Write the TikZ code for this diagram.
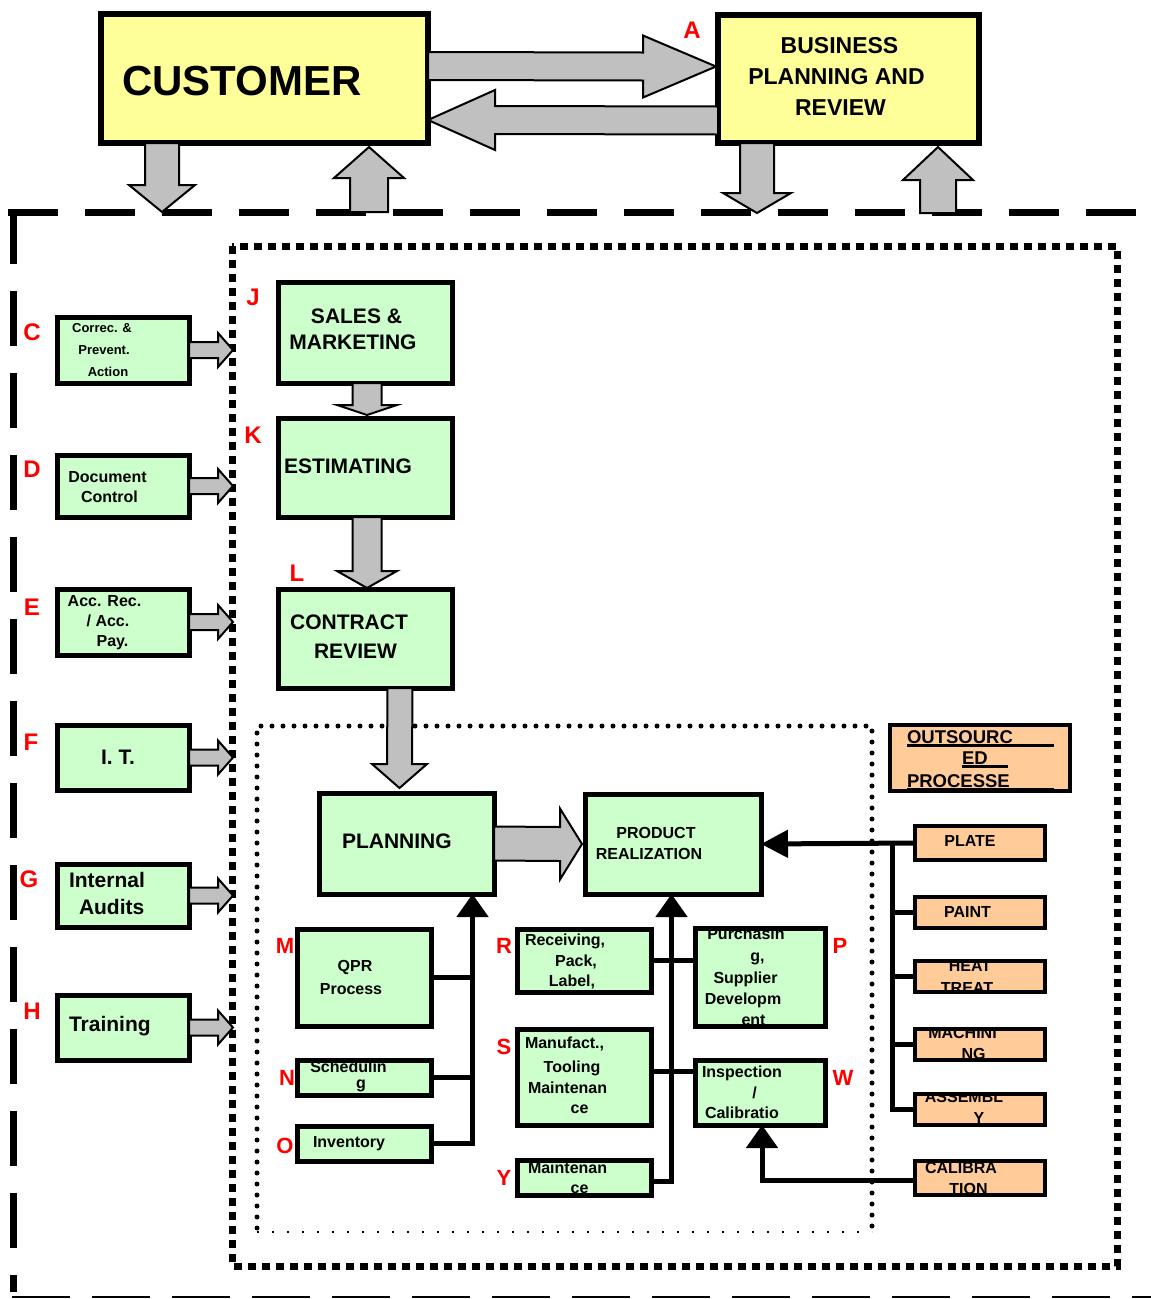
\documentclass[tikz,border=0pt]{standalone}
\usepackage{fontspec}
\setmainfont{Liberation Sans}
\usetikzlibrary{calc,arrows.meta}
\definecolor{yel}{HTML}{FFFF99}
\definecolor{grn}{HTML}{CCFFCC}
\definecolor{org}{HTML}{FFCC99}
\definecolor{gry}{HTML}{C0C0C0}
\definecolor{lred}{HTML}{FF0000}
\tikzset{
 ybox/.style={draw, fill=yel, line width=6pt, outer sep=0pt, inner sep=0pt},
 gbox/.style={draw, fill=grn, line width=5pt, outer sep=0pt, inner sep=0pt},
 obox/.style={draw, fill=org, line width=4.5pt, outer sep=0pt, inner sep=0pt},
 txt/.style={inner sep=0pt, outer sep=0pt, anchor=base},
 f13/.style={txt, font=\fontsize{13}{13}\selectfont\bfseries},
 f16/.style={txt, font=\fontsize{16}{16}\selectfont\bfseries},
 f18/.style={txt, font=\fontsize{18.5}{18.5}\selectfont\bfseries},
 f21/.style={txt, font=\fontsize{21}{21}\selectfont\bfseries},
 f23/.style={txt, font=\fontsize{23}{23}\selectfont\bfseries},
 f42/.style={txt, font=\fontsize{42}{42}\selectfont\bfseries},
 lbl/.style={inner sep=0pt, text=lred, font=\fontsize{24}{24}\selectfont\bfseries},
 lbls/.style={inner sep=0pt, text=lred, font=\fontsize{22}{22}\selectfont\bfseries},
 blk/.style={fill=gry, draw=black, line width=2pt, line join=miter},
 conn/.style={draw, line width=5pt},
 connarr/.style={conn, -{Triangle[length=23pt,width=31pt]}},
}
\newcommand\blockH[5]{%
 \filldraw[blk] ($#1+(0,-#3)$) -- ($#2+(#5,-#3)$) -- ($#2+(#5,-#4)$) -- ($#2$) -- ($#2+(#5,#4)$) -- ($#2+(#5,#3)$) -- ($#1+(0,#3)$) -- cycle;}
\newcommand\blockV[5]{%
 \filldraw[blk] ($#1+(-#3,0)$) -- ($#2+(-#3,#5)$) -- ($#2+(-#4,#5)$) -- ($#2$) -- ($#2+(#4,#5)$) -- ($#2+(#3,#5)$) -- ($#1+(#3,0)$) -- cycle;}
\newcommand\reborder[2]{\draw[line width=#2] (#1.south west) rectangle (#1.north east);}

\begin{document}
\begin{tikzpicture}[x=1pt,y=-1pt]
\useasboundingbox (0,0) rectangle (1151,1299);
\fill[white] (0,0) rectangle (1151,1299);

% ---- frames
\draw[line width=7pt, dash pattern=on 50pt off 27pt] (8,212) -- (1151,212);
\draw[line width=7pt, dash pattern=on 55pt off 27pt] (13,209) -- (13,1292);
\draw[line width=1.8pt, dash pattern=on 58pt off 22pt] (12,1297) -- (1151,1297);
\draw[line width=7pt, dash pattern=on 8pt off 6pt] (232,246) rectangle (1117,1266);
\draw[line width=5pt, line cap=round, dash pattern=on 0pt off 11pt] (257,1228) -- (257,726) -- (872,726) -- (872,1228);
\draw[line width=1.5pt, dash pattern=on 2pt off 13pt] (257,1232) -- (872,1232);

% ---- free-end coordinates
\coordinate (d1) at (162,212);
\coordinate (u1) at (369,212);
\coordinate (d2) at (757,213);
\coordinate (u2) at (938,213);
\coordinate (inL) at (233,0);
\coordinate (busLx) at (472.5,0);
\coordinate (busMx) at (671.5,0);
\coordinate (busRx) at (892,0);

% ---- boxes
\node[ybox, minimum width=327pt, minimum height=129pt] (customer) at (264.5,78.5) {};
\node[ybox, minimum width=261pt, minimum height=128pt] (business) at (848.5,79) {};

\node[gbox, minimum width=132pt, minimum height=66pt] (cbox) at (123,350) {};
\node[gbox, minimum width=132pt, minimum height=62pt] (dbox) at (123,486) {};
\node[gbox, minimum width=132pt, minimum height=66pt] (ebox) at (123,622) {};
\node[gbox, minimum width=132pt, minimum height=65pt] (fbox) at (123,757.5) {};
\node[gbox, minimum width=132pt, minimum height=63pt] (gbx) at (123,895.5) {};
\node[gbox, minimum width=132pt, minimum height=65pt] (hbox) at (123,1027.5) {};

\node[gbox, minimum width=174pt, minimum height=101pt] (sales) at (365,332.5) {};
\node[gbox, minimum width=174pt, minimum height=99pt] (estimating) at (365,467.5) {};
\node[gbox, minimum width=174pt, minimum height=99pt] (contract) at (365,638.5) {};
\node[gbox, minimum width=175pt, minimum height=101pt] (planning) at (406.5,843.5) {};
\node[gbox, minimum width=176pt, minimum height=100pt] (product) at (673,844) {};

\node[gbox, minimum width=134pt, minimum height=97pt] (qpr) at (364,977.5) {};
\node[gbox, minimum width=134pt, minimum height=35pt] (sched) at (364,1077.5) {};
\node[gbox, minimum width=134pt, minimum height=35pt] (inventory) at (364,1143.5) {};
\node[gbox, minimum width=134pt, minimum height=63pt] (receiving) at (584,960.5) {};
\node[gbox, minimum width=134pt, minimum height=96pt] (manufact) at (584,1077) {};
\node[gbox, minimum width=134pt, minimum height=35pt] (maint) at (584,1177.5) {};
\node[gbox, minimum width=130pt, minimum height=98pt] (purchasing) at (760,977) {};
\node[gbox, minimum width=130pt, minimum height=65pt] (inspection) at (760,1092.5) {};

\node[obox, minimum width=180pt, minimum height=66pt] (outsrc) at (980,758) {};
\node[obox, minimum width=130pt, minimum height=34pt] (plate) at (980,843) {};
\node[obox, minimum width=130pt, minimum height=31pt] (paint) at (980,912.5) {};
\node[obox, minimum width=130pt, minimum height=31pt] (heat) at (980,976.5) {};
\node[obox, minimum width=130pt, minimum height=31pt] (machining) at (980,1044.5) {};
\node[obox, minimum width=130pt, minimum height=31pt] (assembly) at (980,1109.5) {};
\node[obox, minimum width=130pt, minimum height=34pt] (calibration) at (980,1178) {};

% ---- block arrows
\blockH{(customer.east)+(0,-12.5)}{(business.west)+(-2,-12.5)}{14}{31}{-73}
\blockH{(business.west)+(0,41.5)}{(customer.east)+(0,41.5)}{14}{30}{67}
\blockV{(customer.south -| d1)}{(d1)}{17}{33}{-27}
\blockV{(u1)}{(customer.south -| u1)+(0,4)}{19}{35}{31}
\blockV{(business.south -| d2)}{(d2)}{17}{34}{-20}
\blockV{(u2)}{(business.south -| u2)+(0,4)}{18}{35}{33}
\blockH{(cbox.east)}{(cbox.east -| inL)}{8}{17}{-15}
\blockH{(dbox.east)}{(dbox.east -| inL)}{8}{17}{-15}
\blockH{(ebox.east)}{(ebox.east -| inL)}{8}{17}{-15}
\blockH{(fbox.east)}{(fbox.east -| inL)}{8}{17}{-15}
\blockH{(gbx.east)}{(gbx.east -| inL)}{8}{17}{-15}
\blockH{(hbox.east)}{(hbox.east -| inL)}{8}{17}{-15}
\blockV{(sales.south)+(2,0)}{(estimating.north)+(2,-3)}{14.5}{30}{-10}
\blockV{(estimating.south)+(2,0)}{(contract.north)+(2,-1)}{14.5}{30}{-17}
\blockV{(contract.south)+(35,0)}{(planning.north)+(-7,-5)}{12.5}{27.5}{-24}
\blockH{(planning.east)}{(product.west)+(-3,0)}{17}{35.5}{-22}

% ---- connectors
\draw[connarr] (inventory.east) -| (planning.south -| busLx);
\draw[conn] (qpr.east) -- (qpr.east -| busLx);
\draw[conn] (sched.east) -- (sched.east -| busLx);
\coordinate (ybr) at ($(maint.east)+(0,4)$);
\draw[connarr] (ybr) -| (product.south -| busMx);
\draw[conn] (receiving.east) -- (receiving.east -| purchasing.west);
\coordinate (sbr) at ($(manufact.east)+(0,-6)$);
\draw[conn] (sbr) -- (sbr -| inspection.west);
\draw[conn, -{Triangle[length=27pt,width=27pt]}] (plate.west) -- (product.east);
\draw[conn] (assembly.west) -| (plate.west -| busRx);
\draw[conn] (paint.west) -- (paint.west -| busRx);
\draw[conn] (heat.west) -- (heat.west -| busRx);
\draw[conn] (machining.west) -- (machining.west -| busRx);
\coordinate (cbr) at ($(calibration.west)+(0,2)$);
\draw[connarr] (cbr) -| ($(inspection.south)+(2,0)$);

% ---- texts
\node[f42, anchor=base west] (tcu) at (122,95) {CUSTOMER};
\node[f23] (tbu1) at (839.5,53) {BUSINESS};
\node[f23] (tbu2) at (836.5,84) {PLANNING AND};
\node[f23] (tbu3) at (840.5,115) {REVIEW};

\node[f13] (tc1) at (102,332) {Correc. \&};
\node[f13] (tc2) at (104,354) {Prevent.};
\node[f13] (tc3) at (108,376) {Action};
\node[f16] (td1) at (107.5,482) {Document};
\node[f16] (td2) at (109.5,502) {Control};
\node[f16] (te1) at (104.5,606) {Acc. Rec.};
\node[f16] (te2) at (108,626) {/ Acc.};
\node[f16] (te3) at (112.5,646) {Pay.};
\node[f21] (tf1) at (118,764) {I. T.};
\node[f21, anchor=base west] (tg1) at (69,887) {Internal};
\node[f21, anchor=base west] (tg2) at (79,914) {Audits};
\node[f21, anchor=base west] (th1) at (69,1031) {Training};

\node[f21] (ts1) at (356.5,323) {SALES \&};
\node[f21] (ts2) at (353,349) {MARKETING};
\node[f21, anchor=base west] (tes) at (284,473) {ESTIMATING};
\node[f21] (tco1) at (349,629) {CONTRACT};
\node[f21] (tco2) at (355.5,658) {REVIEW};
\node[f21, anchor=base west] (tpl) at (342,848) {PLANNING};
\node[f16] (tpr1) at (656,838) {PRODUCT};
\node[f16] (tpr2) at (649,859) {REALIZATION};

\node[f16] (tq1) at (355,971) {QPR};
\node[f16] (tq2) at (351,994) {Process};
\begin{scope}
\clip (sched.south west) rectangle (sched.north east);
\node[f16] (tn1) at (348.5,1072) {Schedulin};
\node[f16] (tn2) at (361,1088) {g};
\end{scope}
\reborder{sched}{5pt}
\node[f16, anchor=base west] (to1) at (313,1147) {Inventory};

\node[f16, anchor=base west] (tr1) at (525,945) {Receiving,};
\node[f16] (tr2) at (576,966) {Pack,};
\node[f16] (tr3) at (572,986) {Label,};
\node[f16, anchor=base west] (tm1) at (525,1048) {Manufact.,};
\node[f16] (tm2) at (572,1072) {Tooling};
\node[f16, anchor=base west] (tm3) at (528,1093) {Maintenan};
\node[f16] (tm4) at (579.5,1113) {ce};
\begin{scope}
\clip (maint.south west) rectangle (maint.north east);
\node[f16, anchor=base west] (ty1) at (528,1173) {Maintenan};
\node[f16] (ty2) at (579.5,1193) {ce};
\end{scope}
\reborder{maint}{5pt}

\begin{scope}
\clip (purchasing.south west) rectangle (purchasing.north east);
\node[f16] (tp1) at (746,939) {Purchasin};
\node[f16] (tp2) at (757.5,961) {g,};
\node[f16] (tp3) at (745.5,983) {Supplier};
\node[f16] (tp4) at (743,1004) {Developm};
\node[f16] (tp5) at (753.5,1025) {ent};
\end{scope}
\reborder{purchasing}{5pt}
\node[f16, anchor=base west] (tw1) at (702,1077) {Inspection};
\node[f16] (tw2) at (754.5,1098) {/};
\node[f16, anchor=base west] (tw3) at (705,1118) {Calibratio};

\node[f18, anchor=base west] (tou1) at (907,743) {OUTSOURC};
\node[f18, anchor=base west] (tou2) at (962,764) {ED};
\node[f18, anchor=base west] (tou3) at (907,787) {PROCESSE};
\draw[line width=2.5pt] (907,745.5) -- (1054,745.5);
\draw[line width=2.5pt] (962,766.5) -- (1008,766.5);
\draw[line width=2.5pt] (907,789) -- (1054,789);

\node[f16] (tpa) at (970,846) {PLATE};
\node[f16] (tpn) at (967.5,917) {PAINT};
\begin{scope}
\clip (heat.south west) rectangle (heat.north east);
\node[f16] (tht1) at (970,971) {HEAT};
\node[f16] (tht2) at (967,993) {TREAT};
\end{scope}
\reborder{heat}{4.5pt}
\begin{scope}
\clip (machining.south west) rectangle (machining.north east);
\node[f16] (tma1) at (962.5,1038) {MACHINI};
\node[f16] (tma2) at (973.5,1059) {NG};
\end{scope}
\reborder{machining}{4.5pt}
\begin{scope}
\clip (assembly.south west) rectangle (assembly.north east);
\node[f16] (tas1) at (964,1102) {ASSEMBL};
\node[f16] (tas2) at (979,1123) {Y};
\end{scope}
\reborder{assembly}{4.5pt}
\begin{scope}
\clip (calibration.south west) rectangle (calibration.north east);
\node[f16] (tca1) at (961,1173) {CALIBRA};
\node[f16] (tca2) at (968.5,1194) {TION};
\end{scope}
\reborder{calibration}{4.5pt}

% ---- red labels
\node[lbl] (lA) at (692,30) {A};
\node[lbl] (lC) at (32,332) {C};
\node[lbl] (lD) at (32,469) {D};
\node[lbl] (lE) at (32,607) {E};
\node[lbl] (lF) at (31,742) {F};
\node[lbl] (lG) at (29,879) {G};
\node[lbl] (lH) at (32,1011) {H};
\node[lbl] (lJ) at (253,297) {J};
\node[lbl] (lK) at (253,435) {K};
\node[lbl] (lL) at (297,573) {L};
\node[lbls] (lM) at (285,946) {M};
\node[lbls] (lN) at (287,1078) {N};
\node[lbls] (lO) at (285,1146) {O};
\node[lbls] (lR) at (504,946) {R};
\node[lbls] (lS) at (504,1047) {S};
\node[lbls] (lY) at (504,1178) {Y};
\node[lbls] (lP) at (840,946) {P};
\node[lbls] (lW) at (843,1078) {W};
\end{tikzpicture}
\end{document}
